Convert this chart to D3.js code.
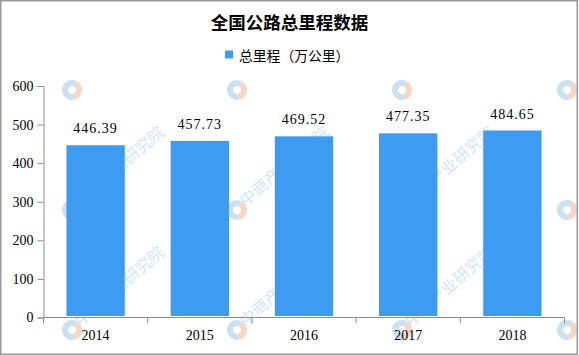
<!DOCTYPE html>
<html lang="zh-CN">
<head>
  <meta charset="UTF-8" />
  <title>全国公路总里程数据</title>
  <script src="https://d3js.org/d3.v7.min.js"></script>
  <style>
    html, body { margin: 0; padding: 0; background: #fff; }
    #chart svg { display: block; }
    .axis path, .axis line { stroke: #8c8c8c; }
    .axis text { font-family: "Liberation Serif", serif; font-size: 14px; fill: #000; }
  </style>
</head>
<body>
  <div id="chart"></div>
<script>
// 数据
const years = ["2014", "2015", "2016", "2017", "2018"];
const mileage = [446.39, 457.73, 469.52, 477.35, 484.65];
const yTicks = [0, 100, 200, 300, 400, 500, 600];

const W = 579, H = 355;
const margin = { left: 43.5, right: 14.5, top: 86, bottom: 37.5 };

const svg = d3.select("#chart").append("svg")
  .attr("width", W)
  .attr("height", H);

// 水印（只保留完整落在画面内的文字）
const wm = svg.append("g").attr("class", "watermark");
const ring = d3.arc().innerRadius(4).outerRadius(10);
for (let j = 0; j < 3; j++) {
  for (let k = 0; k < 4; k++) {
    const cx = 72 + k * 165, cy = 90 + j * 120;
    const g = wm.append("g").attr("transform", `translate(${cx},${cy})`);
    g.append("path")
      .attr("d", ring({ startAngle: Math.PI * 0.95, endAngle: Math.PI * 2.15 }))
      .attr("fill", "#c9e1f2");
    g.append("path")
      .attr("d", ring({ startAngle: Math.PI * 0.15, endAngle: Math.PI * 0.95 }))
      .attr("fill", "#f7d6c8");
    if (j > 0 && k < 3) {
      g.append("text")
        .attr("transform", "translate(6,-6) rotate(-41)")
        .attr("font-family", "Noto Sans CJK SC")
        .attr("font-size", 16)
        .attr("fill", "#d3e6f3")
        .attr("dominant-baseline", "middle")
        .text("中商产业研究院");
    }
  }
}

// 边框
svg.append("rect")
  .attr("x", 0.75).attr("y", 0.75)
  .attr("width", W - 2.5).attr("height", H - 1.5)
  .attr("fill", "none")
  .attr("stroke", "#999")
  .attr("stroke-width", 1.5);

// 标题
svg.append("text")
  .attr("x", 289.5)
  .attr("y", 21)
  .attr("text-anchor", "middle")
  .attr("dominant-baseline", "central")
  .attr("font-family", "Noto Sans CJK SC")
  .attr("font-weight", "bold")
  .attr("font-size", 17.5)
  .attr("fill", "#000")
  .text("全国公路总里程数据");

// 图例
svg.append("rect")
  .attr("x", 225).attr("y", 50.5)
  .attr("width", 8).attr("height", 8)
  .attr("fill", "#3d9cf2");
svg.append("text")
  .attr("x", 239)
  .attr("y", 54.5)
  .attr("dominant-baseline", "central")
  .attr("font-family", "Noto Sans CJK SC")
  .attr("font-size", 13.8)
  .attr("fill", "#000")
  .text("总里程（万公里）");

// 比例尺
const x = d3.scaleBand()
  .domain(years)
  .range([margin.left, W - margin.right])
  .paddingInner(0.44)
  .paddingOuter(0.22);

const y = d3.scaleLinear()
  .domain([0, 600])
  .range([H - margin.bottom, margin.top]);

// 柱子
svg.append("g")
  .selectAll("rect")
  .data(mileage)
  .join("rect")
  .attr("x", (d, i) => x(years[i]))
  .attr("y", d => y(d))
  .attr("width", x.bandwidth())
  .attr("height", d => y(0) - 1.5 - y(d))
  .attr("fill", "#3d9cf2");

// 数值标签
svg.append("g")
  .selectAll("text")
  .data(mileage)
  .join("text")
  .attr("x", (d, i) => x(years[i]) + x.bandwidth() / 2)
  .attr("y", d => y(d) - 12)
  .attr("text-anchor", "middle")
  .attr("font-family", "Liberation Serif")
  .attr("font-size", 14)
  .attr("letter-spacing", 1)
  .attr("fill", "#000")
  .text(d => d.toFixed(2));

// 坐标轴
svg.append("g")
  .attr("class", "axis")
  .attr("transform", `translate(${margin.left},0)`)
  .call(d3.axisLeft(y).tickValues(yTicks).tickSize(6).tickPadding(4));

const xAxis = svg.append("g")
  .attr("class", "axis")
  .attr("transform", `translate(0,${H - margin.bottom})`)
  .call(d3.axisBottom(x).tickSize(0).tickPadding(13));
xAxis.select(".domain").attr("d", `M${margin.left},0H${W - margin.right}`);

// 类目分隔刻度
const bounds = years.map(d => x(d) - x.step() * x.paddingInner() / 2);
bounds.push(W - margin.right);
xAxis.selectAll(".sep")
  .data(bounds)
  .join("line")
  .attr("class", "sep")
  .attr("x1", d => d).attr("x2", d => d)
  .attr("y1", 0).attr("y2", 6)
  .attr("stroke", "#8c8c8c");
</script>
</body>
</html>
